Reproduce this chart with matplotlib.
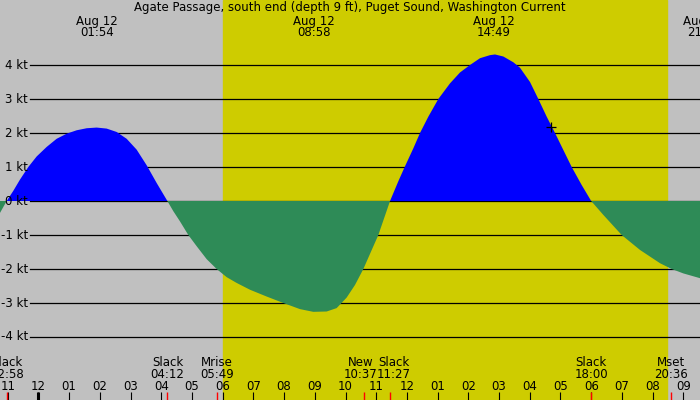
import numpy as np
import matplotlib
matplotlib.use("Agg")
import matplotlib.pyplot as plt

title = "Agate Passage, south end (depth 9 ft), Puget Sound, Washington Current"

# current speed (kt), time in hours from midnight Aug 12
hours = [-1.25, -1.033, -0.816, -0.599, -0.328, -0.056, 0.269, 0.595, 0.921, 1.246, 1.572,
         1.897, 2.223, 2.549, 2.874, 3.2, 3.526, 3.851, 4.2, 4.394, 4.611, 4.882, 5.154,
         5.479, 5.805, 6.131, 6.456, 6.89, 7.433, 7.976, 8.518, 8.953, 9.387, 9.712,
         10.038, 10.309, 10.581, 11.069, 11.45, 11.72, 11.937, 12.209, 12.426, 12.697,
         13.023, 13.403, 13.728, 14.054, 14.38, 14.705, 14.868, 15.14, 15.465, 15.682,
         16.008, 16.279, 16.551, 16.822, 17.093, 17.365, 17.69, 18.0, 18.396, 18.993,
         19.59, 20.241, 20.621, 21.001, 21.543]
speed = [-0.35, 0.0, 0.3, 0.63, 1.0, 1.31, 1.59, 1.83, 1.98, 2.08, 2.14,
         2.16, 2.13, 2.03, 1.83, 1.51, 1.05, 0.53, 0.0, -0.3, -0.6, -1.0, -1.33,
         -1.71, -2.0, -2.24, -2.41, -2.61, -2.81, -3.0, -3.18, -3.26, -3.25, -3.15,
         -2.84, -2.47, -2.0, -1.0, 0.0, 0.58, 1.02, 1.55, 2.0, 2.48,
         3.0, 3.46, 3.78, 4.0, 4.2, 4.29, 4.31, 4.25, 4.08, 3.92,
         3.5, 3.0, 2.48, 2.0, 1.5, 1.0, 0.47, 0.0, -0.41, -1.0,
         -1.44, -1.83, -2.0, -2.13, -2.27]

# max current labels along the top
peak_times = [1.9, 8.967, 14.817, 21.667]
peak_labels = ["Aug 12\n01:54", "Aug 12\n08:58", "Aug 12\n14:49", "Aug 12\n21:40"]

# events along the bottom
event_times = [-1.033, 4.2, 5.817, 10.617, 11.45, 18.0, 20.6]
event_names = ["Slack", "Slack", "Mrise", "New", "Slack", "Slack", "Mset"]
event_clock = ["22:58", "04:12", "05:49", "10:37", "11:27", "18:00", "20:36"]
event_nudge = [0, 0, 0, -4, 4, 0, 0]

sunrise, sunset = 6.0, 20.47
hour_ticks = list(range(-1, 22))
hour_labels = ["%02d" % ((h - 1) % 12 + 1) for h in hour_ticks]
marker_time, marker_speed = 16.7, 2.18

levels = [-4, -3, -2, -1, 0, 1, 2, 3, 4]

plt.rcParams['font.family'] = ['DejaVu Sans']
fig = plt.figure(figsize=(7, 4), dpi=100)
fig.patch.set_facecolor('#c0c0c0')
ax = fig.add_axes([0, 0, 1, 1])
ax.set_xlim(-1.25, 21.543)
ax.set_ylim(-5.853, 5.912)
ax.axis('off')

ax.axvspan(sunrise, sunset, color='#cecc00', zorder=1)

for lv in levels:
    ax.axhline(lv, xmin=30 / 700, xmax=1, color='black', lw=0.9, zorder=2)
    ax.text(28 / 700, lv, "%d kt" % lv, transform=ax.get_yaxis_transform(),
            ha='right', va='center', fontsize=8.5, zorder=5)

t = np.array(hours)
v = np.array(speed)
ax.fill_between(t, v, 0, where=v >= 0, interpolate=True, color='#0000ff', lw=0, zorder=3)
ax.fill_between(t, v, 0, where=v <= 0, interpolate=True, color='#2e8b57', lw=0, zorder=3)

ax.plot([marker_time], [marker_speed], marker='+', color='black', ms=6.7, mew=0.9, zorder=4)

tr = ax.get_xaxis_transform()
fig.text(0.5, 1 - 11.5 / 400, title, ha='center', va='baseline', fontsize=8.5)

for pt, lab in zip(peak_times, peak_labels):
    top, bottom = lab.split("\n")
    ax.text(pt, 1 - 24.5 / 400, top, transform=tr, ha='center', va='baseline', fontsize=8.5, zorder=5)
    ax.text(pt, 1 - 36 / 400, bottom, transform=tr, ha='center', va='baseline', fontsize=8.5, zorder=5)

for et, name, clk, dx in zip(event_times, event_names, event_clock, event_nudge):
    ax.annotate(name, (et, 1 - 366.5 / 400), xycoords=tr, xytext=(dx * 0.72, 0),
                textcoords='offset points', ha='center', va='baseline', fontsize=8.5, zorder=5)
    ax.annotate(clk, (et, 1 - 378.5 / 400), xycoords=tr, xytext=(dx * 0.72, 0),
                textcoords='offset points', ha='center', va='baseline', fontsize=8.5, zorder=5)

for h, lab in zip(hour_ticks, hour_labels):
    ax.text(h, 1 - 390 / 400, lab, transform=tr, ha='center', va='baseline', fontsize=8.5, zorder=5)

ax.vlines(hour_ticks, 0, 8 / 400, transform=tr, color='black', lw=0.8, zorder=5)
ax.vlines([0], 0, 8 / 400, transform=tr, color='black', lw=2.2, zorder=6)
ax.vlines(event_times, 0, 8 / 400, transform=tr, color='red', lw=1.0, zorder=6)

fig.savefig("out.png", dpi=100, facecolor=fig.get_facecolor())
